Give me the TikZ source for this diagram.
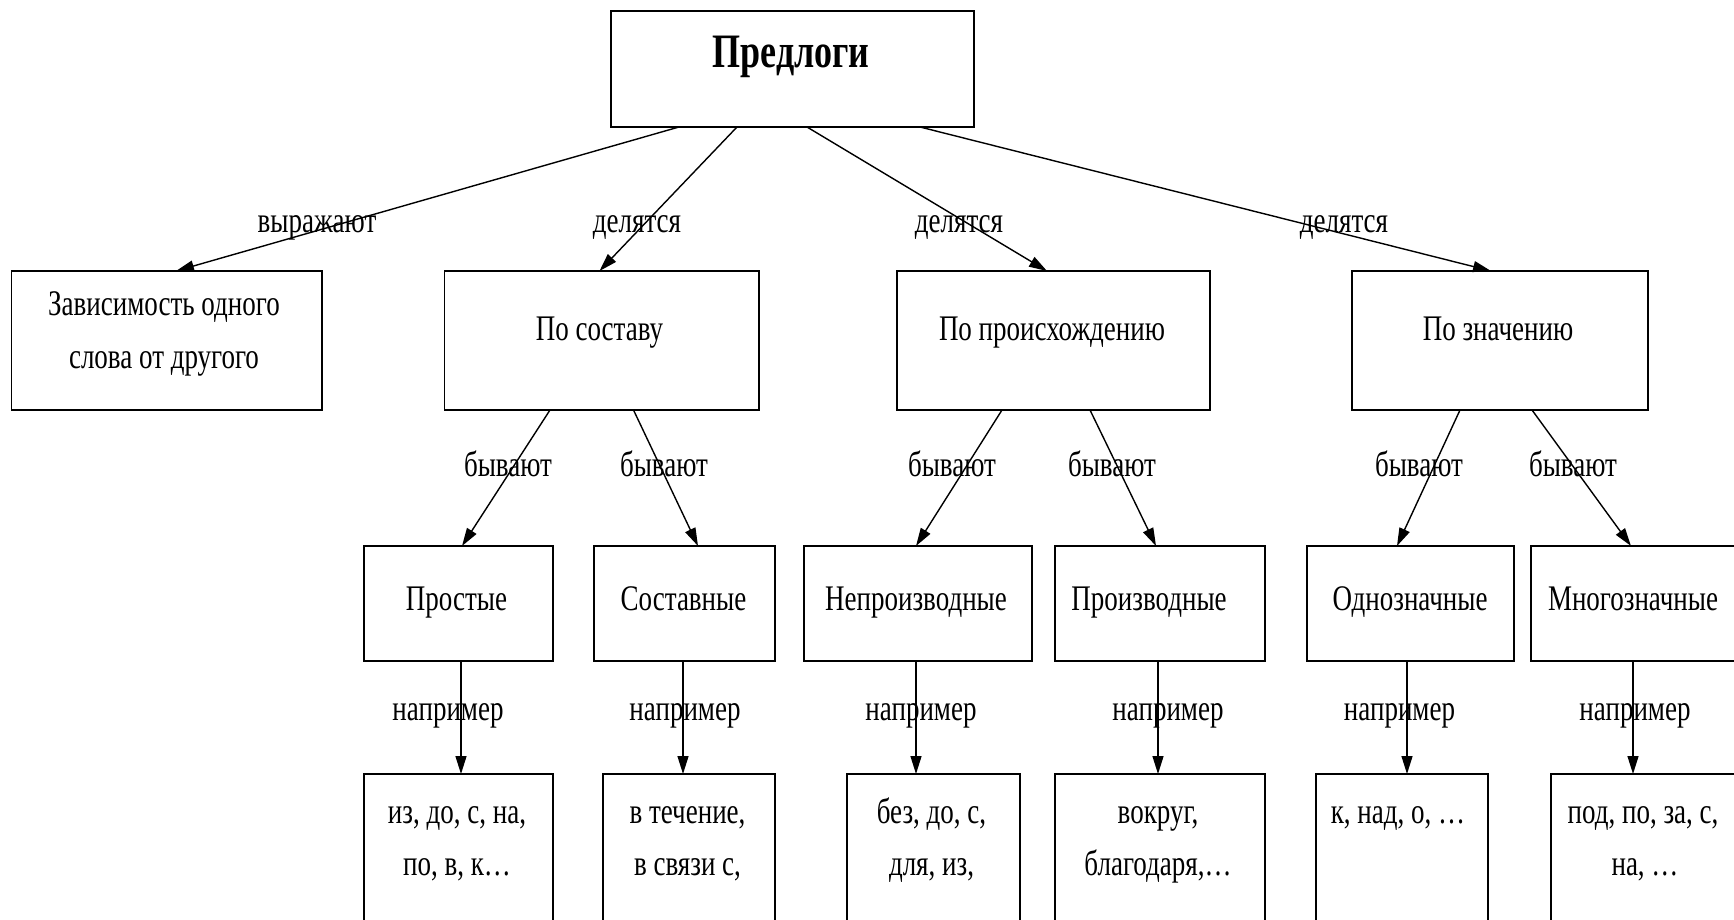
\documentclass[tikz,border=0pt]{standalone}
\usepackage{fontspec}
\setmainfont{Liberation Serif}[FakeStretch=0.75]
\usetikzlibrary{arrows.meta}
\begin{document}
\begin{tikzpicture}[x=1pt,y=-1pt,
  box/.style={draw, line width=1.8pt, inner sep=0pt, outer sep=0pt, rectangle},
  txt/.style={anchor=base, inner sep=0pt, font=\fontsize{36}{52}\selectfont},
  ttl/.style={anchor=base, inner sep=0pt, font=\fontsize{48}{58}\selectfont\bfseries},
  arr/.style={draw, line width=1.4pt, -{Triangle[length=18pt,width=11pt]}},
]
\useasboundingbox (0,0) rectangle (1734,920);
\fill[white] (0,0) rectangle (1734,920);

% level 1
\node[box, minimum width=363pt, minimum height=116pt] (top) at (792.5,69) {};
\node[ttl] (topT) at (791,68) {Предлоги};

% level 2
\node[box, minimum width=310.5pt, minimum height=139pt] (dep) at (166.75,340.5) {};
\node[box, minimum width=314.5pt, minimum height=139pt] (sost) at (601.75,340.5) {};
\node[box, minimum width=313pt, minimum height=139pt] (proish) at (1053.5,340.5) {};
\node[box, minimum width=296pt, minimum height=139pt] (znach) at (1500,340.5) {};
\node[txt] (depA) at (164,315) {Зависимость одного};
\node[txt] (depB) at (164,368) {слова от другого};
\node[txt] (sostT) at (599.5,340) {По составу};
\node[txt] (proishT) at (1052,340) {По происхождению};
\node[txt] (znachT) at (1498,340) {По значению};

% level 3
\node[box, minimum width=189pt, minimum height=115pt] (prost) at (458.5,603.5) {};
\node[box, minimum width=181pt, minimum height=115pt] (sostav) at (684.5,603.5) {};
\node[box, minimum width=228pt, minimum height=115pt] (neproiz) at (918,603.5) {};
\node[box, minimum width=210pt, minimum height=115pt] (proiz) at (1160,603.5) {};
\node[box, minimum width=207pt, minimum height=115pt] (odno) at (1410.5,603.5) {};
\node[box, minimum width=209pt, minimum height=115pt] (mnogo) at (1635.5,603.5) {};
\node[txt] (prostT) at (456.5,610) {Простые};
\node[txt] (sostavT) at (683.5,610) {Составные};
\node[txt] (neproizT) at (916,610) {Непроизводные};
\node[txt] (proizT) at (1149,610) {Производные};
\node[txt] (odnoT) at (1410,610) {Однозначные};
\node[txt] (mnogoT) at (1633,610) {Многозначные};

% level 4
\node[box, minimum width=189pt, minimum height=186pt] (ex1) at (458.5,867) {};
\node[box, minimum width=172pt, minimum height=186pt] (ex2) at (689,867) {};
\node[box, minimum width=173pt, minimum height=186pt] (ex3) at (933.5,867) {};
\node[box, minimum width=210pt, minimum height=186pt] (ex4) at (1160,867) {};
\node[box, minimum width=172pt, minimum height=186pt] (ex5) at (1402,867) {};
\node[box, minimum width=189pt, minimum height=186pt] (ex6) at (1645.5,867) {};
\node[txt] (ex1A) at (457,823) {из, до, с, на,};
\node[txt] (ex1B) at (457,875) {по, в, к…};
\node[txt] (ex2A) at (687.5,823) {в течение,};
\node[txt] (ex2B) at (687.5,875) {в связи с,};
\node[txt] (ex3A) at (931.5,823) {без, до, с,};
\node[txt] (ex3B) at (931.5,875) {для, из,};
\node[txt] (ex4A) at (1158,823) {вокруг,};
\node[txt] (ex4B) at (1158,875) {благодаря,…};
\node[txt] (ex5A) at (1398,823) {к, над, о, …};
\node[txt] (ex6A) at (1643,823) {под, по, за, с,};
\node[txt] (ex6B) at (1645,875) {на, …};

% connectors level 1 -> 2
\draw[arr] ([xshift=68pt]top.south west) -- ([xshift=164.5pt]dep.north west);
\draw[arr] ([xshift=126pt]top.south west) -- ([xshift=155pt]sost.north west);
\draw[arr] ([xshift=196pt]top.south west) -- ([xshift=150pt]proish.north west);
\draw[arr] ([xshift=309pt]top.south west) -- ([xshift=139pt]znach.north west);
\node[txt] (l1) at (317,233) {выражают};
\node[txt] (l2) at (637,233) {делятся};
\node[txt] (l3) at (959,233) {делятся};
\node[txt] (l4) at (1344,233) {делятся};

% connectors level 2 -> 3
\draw[arr] ([xshift=105.5pt]sost.south west) -- ([xshift=98pt]prost.north west);
\draw[arr] ([xshift=189pt]sost.south west) -- ([xshift=104pt]sostav.north west);
\draw[arr] ([xshift=105pt]proish.south west) -- ([xshift=112pt]neproiz.north west);
\draw[arr] ([xshift=193pt]proish.south west) -- ([xshift=101pt]proiz.north west);
\draw[arr] ([xshift=108pt]znach.south west) -- ([xshift=90pt]odno.north west);
\draw[arr] ([xshift=180pt]znach.south west) -- ([xshift=100pt]mnogo.north west);
\node[txt] (b1) at (508,476) {бывают};
\node[txt] (b2) at (664,476) {бывают};
\node[txt] (b3) at (952,476) {бывают};
\node[txt] (b4) at (1112,476) {бывают};
\node[txt] (b5) at (1419,476) {бывают};
\node[txt] (b6) at (1573,476) {бывают};

% connectors level 3 -> 4
\draw[arr] ([xshift=97pt]prost.south west) -- ([xshift=97pt]ex1.north west);
\draw[arr] ([xshift=89pt]sostav.south west) -- ([xshift=80pt]ex2.north west);
\draw[arr] ([xshift=112pt]neproiz.south west) -- ([xshift=69pt]ex3.north west);
\draw[arr] ([xshift=103pt]proiz.south west) -- ([xshift=103pt]ex4.north west);
\draw[arr] ([xshift=100pt]odno.south west) -- ([xshift=91pt]ex5.north west);
\draw[arr] ([xshift=102pt]mnogo.south west) -- ([xshift=82pt]ex6.north west);
\node[txt] (n1) at (448,720) {например};
\node[txt] (n2) at (685,720) {например};
\node[txt] (n3) at (921,720) {например};
\node[txt] (n4) at (1168,720) {например};
\node[txt] (n5) at (1399.5,720) {например};
\node[txt] (n6) at (1635,720) {например};
\end{tikzpicture}
\end{document}
